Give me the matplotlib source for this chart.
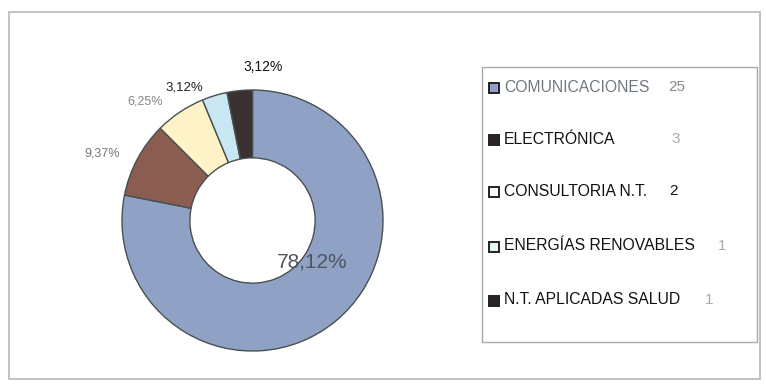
import matplotlib.pyplot as plt
from matplotlib.patches import Rectangle

# data
sectors = ['COMUNICACIONES', 'ELECTRÓNICA', 'CONSULTORIA N.T.', 'ENERGÍAS RENOVABLES', 'N.T. APLICADAS SALUD']
counts = [25, 3, 2, 1, 1]
pct_labels = ['78,12%', '9,37%', '6,25%', '3,12%', '3,12%']
colors = ['#8fa2c6', '#8a5d50', '#fdf3c6', '#c9e6f3', '#3b3131']
legend_marks = ['#8fa2c6', '#2a2424', '#fbfaf0', '#e4f3f6', '#2a2424']

W, H = 766, 385
plt.rcParams['font.family'] = ['Liberation Sans', 'DejaVu Sans']
fig = plt.figure(figsize=(W / 100, H / 100), dpi=100)

def px(x, y):
    # pixel coords (top-left origin) -> figure fraction
    return x / W, 1 - y / H

# outer frame
fig.patches.append(Rectangle(px(9, 379), 751 / W, 367 / H, transform=fig.transFigure,
                             fill=False, edgecolor='#b8b8b8', lw=1.2))

# donut
ax = fig.add_axes([122 / W, 34 / H, 261 / W, 261 / H])
ax.pie(counts, colors=colors, startangle=90, counterclock=False,
       wedgeprops=dict(width=0.52, edgecolor='#4a5050', linewidth=1.0))
ax.set_aspect('equal')
ax.set_xlim(-1, 1)
ax.set_ylim(-1, 1)
ax.axis('off')

# percentage labels
label_pos = [(312, 262, 15, '#4e5560'), (102, 153, 9, '#777777'), (145, 101, 9, '#888888'),
             (184, 87, 9.5, '#222222'), (263, 67, 10, '#111111')]
for txt, (x, y, fs, c) in zip(pct_labels, label_pos):
    fig.text(*px(x, y), txt, ha='center', va='center', fontsize=fs, color=c)

# legend box
fig.patches.append(Rectangle(px(482, 342), 275 / W, 275 / H, transform=fig.transFigure,
                             fill=False, edgecolor='#a8a8a8', lw=1.0))
rows_y = [87, 139, 191, 246, 300]
num_x = [677, 676, 673, 722, 709]
text_col = ['#707880', '#111111', '#111111', '#111111', '#111111']
num_col = ['#8a8a8a', '#aaaaaa', '#111111', '#aaaaaa', '#aaaaaa']
for name, n, c, y, nx, tc, nc in zip(sectors, counts, legend_marks, rows_y, num_x, text_col, num_col):
    fig.patches.append(Rectangle(px(489, y + 6), 10 / W, 10 / H, transform=fig.transFigure,
                                 facecolor=c, edgecolor='#222222', lw=1.4))
    fig.text(*px(504, y), name, ha='left', va='center', fontsize=11.3, color=tc)
    fig.text(*px(nx, y), str(n), ha='center', va='center', fontsize=11, color=nc)

fig.savefig('out.png', dpi=100)
